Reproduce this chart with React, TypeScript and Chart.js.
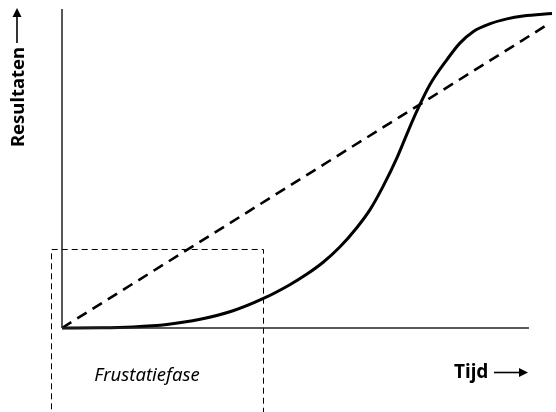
import React, { useEffect, useRef } from "react";
import { Chart, registerables } from "chart.js";

Chart.register(...registerables);

// S-curve (results over time), x and y in 0..100 units
const curveX = [0, 7.8, 14.5, 21.4, 28.2, 34.9, 41.0, 46.5, 50.0, 53.3, 56.7, 60.2, 62.9, 65.5, 68.4, 71.6, 75.1, 78.6, 81.2, 83.9, 87.4, 90.8, 94.1, 100];
const curveY = [0, 0.06, 0.33, 1.09, 2.72, 5.4, 9.18, 13.58, 16.91, 20.61, 25.37, 31.5, 37.17, 44.3, 53.5, 65.2, 76.3, 84.2, 89.3, 92.9, 95.4, 96.9, 97.8, 98.6];
// Linear expectation line
const lineX = [0, 99.6];
const lineY = [0, 95.6];
// Axes
const yAxisX = [0, 0];
const yAxisY = [100, 0];
const xAxisX = [0, 95.3];
const xAxisY = [0, 0];
// Frustration phase box (drawn right-to-left)
const boxX = [41.12, 41.12, -2.14, -2.14];
const boxY = [-30, 24.61, 24.61, -30];

const yLabel = "Resultaten";
const xLabel = "Tijd";
const boxLabel = "Frustatiefase";

const pts = (xs: number[], ys: number[]) => xs.map((x, i) => ({ x, y: ys[i] }));

const labelsPlugin = {
  id: "labels",
  afterDraw(chart: any) {
    const ctx = chart.ctx as CanvasRenderingContext2D;
    ctx.save();
    ctx.fillStyle = "#000";
    ctx.strokeStyle = "#000";
    // Y label rotated
    ctx.save();
    ctx.translate(24, 97);
    ctx.rotate(-Math.PI / 2);
    ctx.font = "bold 18.5px 'Noto Sans'";
    ctx.textAlign = "center";
    ctx.textBaseline = "alphabetic";
    ctx.fillText(yLabel, 0, 0);
    ctx.restore();
    // Y arrow
    ctx.lineWidth = 1.6;
    ctx.beginPath();
    ctx.moveTo(17, 43);
    ctx.lineTo(17, 16);
    ctx.stroke();
    ctx.beginPath();
    ctx.moveTo(17, 8);
    ctx.lineTo(12.5, 17);
    ctx.lineTo(21.5, 17);
    ctx.closePath();
    ctx.fill();
    // X label
    ctx.font = "bold 19px 'Noto Sans'";
    ctx.textAlign = "left";
    ctx.textBaseline = "alphabetic";
    ctx.fillText(xLabel, 454, 378);
    ctx.beginPath();
    ctx.moveTo(494, 372.5);
    ctx.lineTo(520, 372.5);
    ctx.stroke();
    ctx.beginPath();
    ctx.moveTo(528, 372.5);
    ctx.lineTo(519, 368);
    ctx.lineTo(519, 377);
    ctx.closePath();
    ctx.fill();
    // Box label
    ctx.font = "italic 18.5px 'Noto Sans'";
    ctx.textAlign = "center";
    ctx.textBaseline = "alphabetic";
    ctx.fillText(boxLabel, 147, 381);
    ctx.restore();
  },
};

export default function App() {
  const ref = useRef<HTMLCanvasElement | null>(null);
  useEffect(() => {
    document.body.style.margin = "0";
    const chart = new Chart(ref.current as HTMLCanvasElement, {
      type: "line",
      data: {
        datasets: [
          {
            data: pts(yAxisX, yAxisY),
            borderColor: "#222",
            borderWidth: 1.5,
            pointRadius: 0,
            clip: false as any,
          },
          {
            data: pts(xAxisX, xAxisY),
            borderColor: "#222",
            borderWidth: 1.5,
            pointRadius: 0,
            clip: false as any,
          },
          {
            data: pts(boxX, boxY),
            borderColor: "#000",
            borderWidth: 1,
            borderDash: [6, 4],
            pointRadius: 0,
            clip: false as any,
          },
          {
            data: pts(lineX, lineY),
            borderColor: "#000",
            borderWidth: 2.6,
            borderDash: [11, 7],
            pointRadius: 0,
            clip: false as any,
          },
          {
            data: pts(curveX, curveY),
            borderColor: "#000",
            borderWidth: 3,
            pointRadius: 0,
            cubicInterpolationMode: "monotone",
            clip: false as any,
          },
        ],
      },
      options: {
        animation: false,
        responsive: false,
        layout: { padding: { left: 62, right: 4, top: 9, bottom: 84 } },
        plugins: { legend: { display: false }, tooltip: { enabled: false } },
        scales: {
          x: { type: "linear", min: 0, max: 100, display: false },
          y: { type: "linear", min: 0, max: 100, display: false },
        },
      },
      plugins: [labelsPlugin],
    });
    return () => chart.destroy();
  }, []);
  return (
    <div style={{ width: 556, height: 412, background: "#fff" }}>
      <canvas ref={ref} width={556} height={412} style={{ display: "block" }} />
    </div>
  );
}
